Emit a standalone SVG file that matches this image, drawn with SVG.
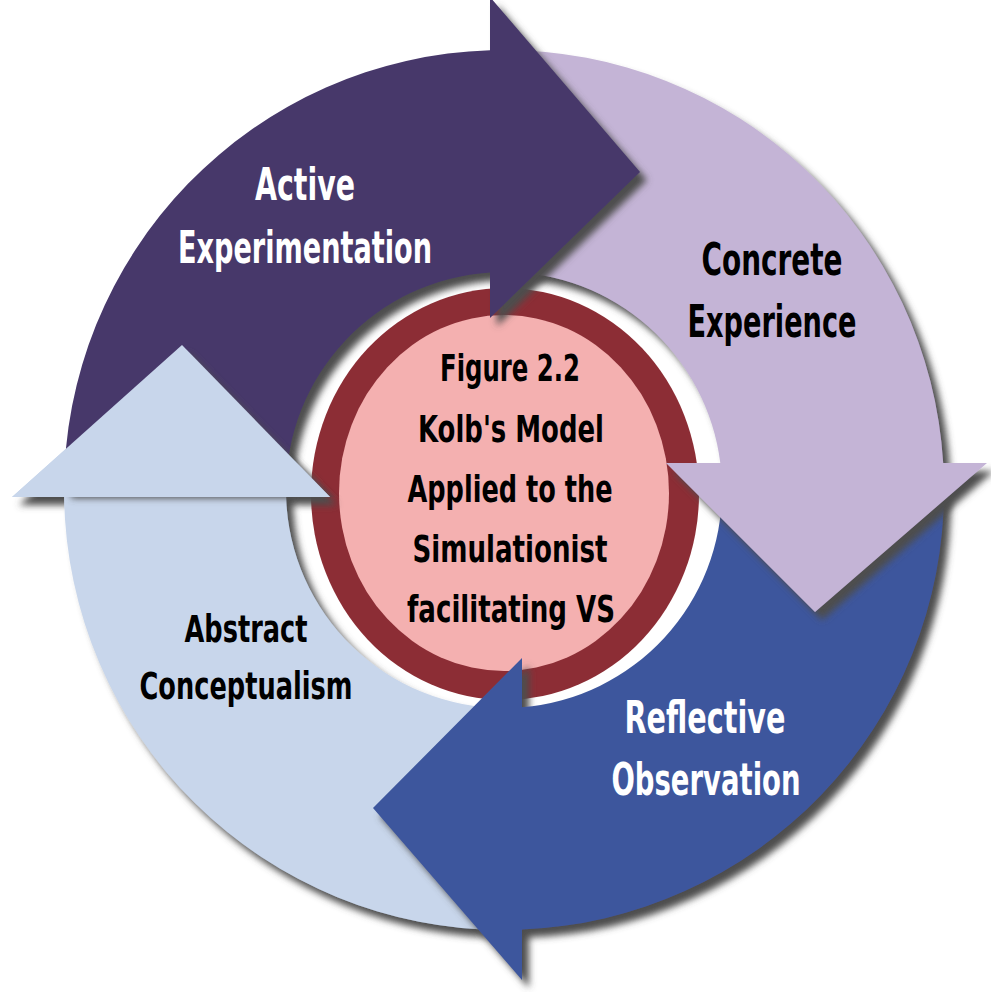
<svg xmlns="http://www.w3.org/2000/svg" width="991" height="992" viewBox="0 0 991 992">
<style>
  .lbl { font-family: "DejaVu Sans Condensed", "DejaVu Sans", "Liberation Sans", sans-serif; font-weight: bold; text-anchor: middle; }
  .big { font-size: 44px; }
  .mid { font-size: 38px; }
  .sm { font-size: 37px; }
  .w { fill: #ffffff; }
  .k { fill: #000000; }
</style>
<defs>
  <filter id="sh" filterUnits="userSpaceOnUse" x="-60" y="-60" width="1120" height="1120">
    <feGaussianBlur in="SourceAlpha" stdDeviation="3.5"/>
    <feOffset dx="7" dy="8" result="b"/>
    <feFlood flood-color="#4d4d4d" flood-opacity="1"/>
    <feComposite in2="b" operator="in"/>
    <feMerge><feMergeNode/><feMergeNode in="SourceGraphic"/></feMerge>
  </filter>
  <clipPath id="lbHeadClip"><rect x="0" y="0" width="991" height="497"/></clipPath>
</defs>
<rect width="991" height="992" fill="#ffffff"/>

<g id="center">
  <ellipse cx="505" cy="494" rx="194" ry="206" fill="#8c2d35"/>
  <ellipse cx="504" cy="493" rx="165" ry="178" fill="#f4b0b0"/>
</g>

<g id="connectors">
  <g id="abstract-conceptualism-arrow" filter="url(#sh)">
    <path d="M504,930 A440,440 0 0 1 64.06,497 L12,497 L182,345 L330,497 L286.1,497 A218,218 0 0 0 504,708 Z" fill="#c8d6eb"/>
  </g>
  <g id="reflective-observation-arrow" filter="url(#sh)">
    <path d="M944,490 A440,440 0 0 1 522,929.6 L522,980 L373,808 L522,658 L522,707.3 A218,218 0 0 0 722,490 Z" fill="#3e579d"/>
  </g>
  <g id="concrete-experience-arrow" filter="url(#sh)">
    <path d="M504,50 A440,440 0 0 1 943.2,463 L987,463 L815,612 L666,463 L720.3,463 A218,218 0 0 0 504,272 Z" fill="#c4b4d6"/>
  </g>
  <g id="active-experimentation-arrow" filter="url(#sh)">
    <path d="M64,490 A440,440 0 0 1 490,50.2 L490,-3 L640,172 L490,318 L490,272.45 A218,218 0 0 0 286,490 Z" fill="#47386b"/>
  </g>
  <g id="abstract-conceptualism-head" clip-path="url(#lbHeadClip)">
    <polygon points="12,497 182,345 330,497" fill="#c8d6eb" filter="url(#sh)"/>
  </g>
</g>

<g id="node-active">
  <text class="lbl big w" x="305" y="200" textLength="100" lengthAdjust="spacingAndGlyphs">Active</text>
  <text class="lbl big w" x="305" y="263" textLength="254" lengthAdjust="spacingAndGlyphs">Experimentation</text>
</g>
<g id="node-concrete">
  <text class="lbl big k" x="772" y="275" textLength="141" lengthAdjust="spacingAndGlyphs">Concrete</text>
  <text class="lbl big k" x="772" y="337" textLength="169" lengthAdjust="spacingAndGlyphs">Experience</text>
</g>
<g id="node-reflective">
  <text class="lbl big w" x="705" y="733" textLength="161" lengthAdjust="spacingAndGlyphs">Reflective</text>
  <text class="lbl big w" x="706" y="795" textLength="189" lengthAdjust="spacingAndGlyphs">Observation</text>
</g>
<g id="node-abstract">
  <text class="lbl sm k" x="246" y="642" textLength="123" lengthAdjust="spacingAndGlyphs">Abstract</text>
  <text class="lbl sm k" x="246" y="699" textLength="213" lengthAdjust="spacingAndGlyphs">Conceptualism</text>
</g>
<g id="node-center-text">
  <text class="lbl mid k" x="510" y="381" textLength="140" lengthAdjust="spacingAndGlyphs">Figure 2.2</text>
  <text class="lbl mid k" x="511" y="442" textLength="186" lengthAdjust="spacingAndGlyphs">Kolb's Model</text>
  <text class="lbl mid k" x="510" y="502" textLength="205" lengthAdjust="spacingAndGlyphs">Applied to the</text>
  <text class="lbl mid k" x="510" y="562" textLength="195" lengthAdjust="spacingAndGlyphs">Simulationist</text>
  <text class="lbl mid k" x="511" y="622" textLength="208" lengthAdjust="spacingAndGlyphs">facilitating VS</text>
</g>
</svg>
